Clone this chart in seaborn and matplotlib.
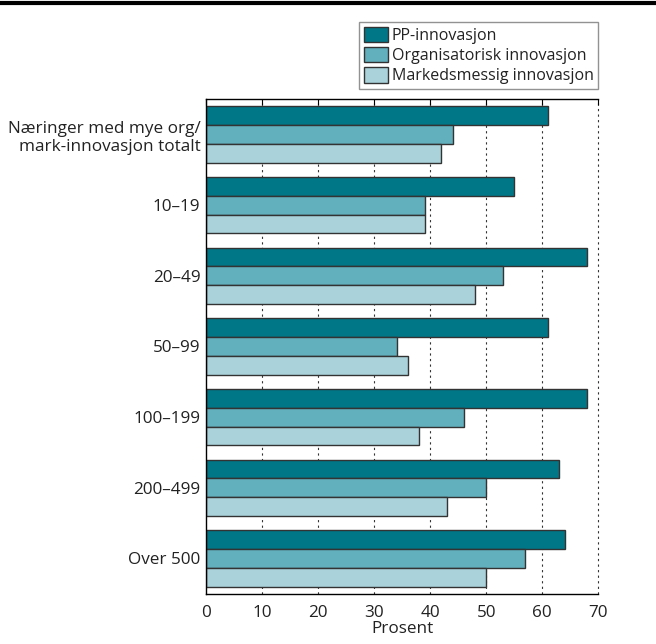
import matplotlib
matplotlib.use("Agg")
import matplotlib.pyplot as plt
import matplotlib.lines as mlines
import pandas as pd
import seaborn as sns

# Data
categories = ["Næringer med mye org/\nmark-innovasjon totalt", "10–19", "20–49",
              "50–99", "100–199", "200–499", "Over 500"]
series = ["PP-innovasjon", "Organisatorisk innovasjon", "Markedsmessig innovasjon"]
pp_vals = [61, 55, 68, 61, 68, 63, 64]
org_vals = [44, 39, 53, 34, 46, 50, 57]
mark_vals = [42, 39, 48, 36, 38, 43, 50]
colors = ["#007787", "#62afbd", "#aad2db"]

frame = pd.DataFrame({
    "kategori": categories * 3,
    "serie": [series[0]] * 7 + [series[1]] * 7 + [series[2]] * 7,
    "verdi": pp_vals + org_vals + mark_vals,
})

sns.set_style("white")
plt.rcParams["font.family"] = ["Open Sans", "DejaVu Sans"]
fs = 12.3

fig = plt.figure(figsize=(6.56, 6.44), dpi=100)
ax = fig.add_axes([0.314, 0.078, 0.598, 0.768])

sns.barplot(data=frame, y="kategori", x="verdi", hue="serie", orient="h",
            palette=colors, width=0.8, edgecolor="#333333", linewidth=1,
            saturation=1, ax=ax, legend=True)

ax.set_xlim(0, 70)
ax.set_xticks(range(0, 71, 10))
ax.set_ylim(6.5, -0.5)
ax.set_xlabel("Prosent", fontsize=fs, labelpad=0, color="#222222")
ax.set_ylabel("")
ax.tick_params(axis="x", labelsize=fs, direction="in", top=True, length=4,
               color="black", pad=8, labelcolor="#222222")
ax.tick_params(axis="y", labelsize=fs, length=0, pad=4, labelcolor="#222222")
for lbl in ax.get_yticklabels():
    lbl.set_horizontalalignment("right")
    lbl.set_multialignment("right")

for xv in range(10, 71, 10):
    ax.axvline(xv, color="#333333", linestyle=(0, (2, 3)), linewidth=0.8,
               zorder=0, clip_on=False)

for side in ["left", "top", "bottom"]:
    ax.spines[side].set_visible(True)
    ax.spines[side].set_color("black")
    ax.spines[side].set_linewidth(1)
ax.spines["right"].set_visible(False)

leg = ax.legend(loc="lower right", bbox_to_anchor=(1.0, 1.02), frameon=True,
                fontsize=11.5, handlelength=1.5, handleheight=1.1,
                handletextpad=0.25, labelspacing=0.2, borderpad=0.3,
                borderaxespad=0, fancybox=False)
leg.get_frame().set_edgecolor("#777777")
leg.get_frame().set_linewidth(1)
for t in leg.get_texts():
    t.set_color("#222222")

fig.add_artist(mlines.Line2D([0, 1], [0.996, 0.996], color="black", linewidth=3,
                             transform=fig.transFigure))

fig.savefig("out.png", dpi=100)
